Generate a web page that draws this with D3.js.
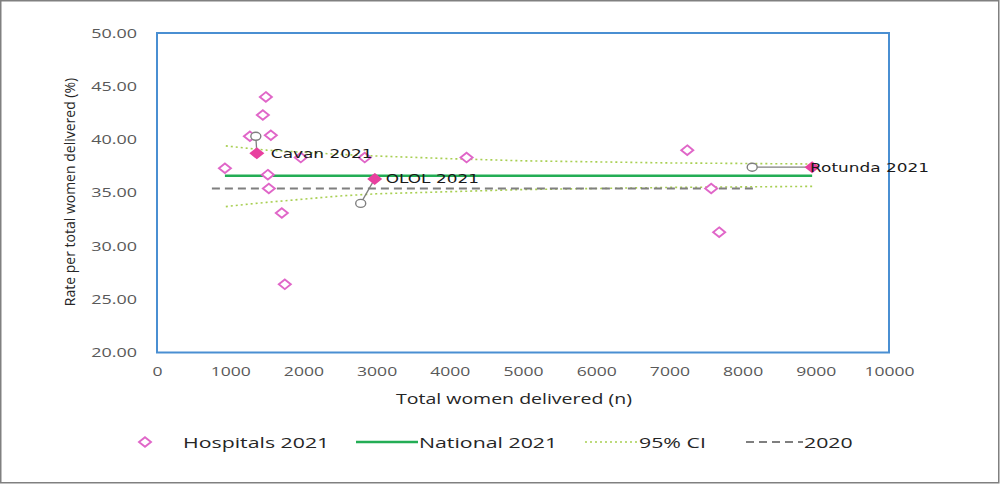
<!DOCTYPE html>
<html>
<head>
<meta charset="utf-8">
<script src="https://cdn.jsdelivr.net/npm/d3@7"></script>
<style>
  body { margin: 0; background: #fff; }
  svg { display: block; }
</style>
</head>
<body>
<script>
// hospitals 2021 (unlabelled units): total women delivered and rate (%)
const hospN    = [928, 1487, 1446, 1269, 1555, 1514, 1528, 1964, 2838, 1705, 1746, 4229, 7244, 7571, 7680];
const hospRate = [37.3, 44.0, 42.3, 40.3, 40.4, 36.7, 35.4, 38.3, 38.3, 33.1, 26.4, 38.3, 39.0, 35.4, 31.3];

// labelled hospitals, 2021 value and 2020 value
const labelNames = ['Cavan 2021', 'OLOL 2021', 'Rotunda 2021'];
const lab2021N    = [1364, 2974, 8950];
const lab2021Rate = [38.7, 36.3, 37.4];
const lab2020N    = [1350, 2783, 8131];
const lab2020Rate = [40.3, 34.0, 37.4];

// national rates
const national2021 = 36.6;
const national2020 = 35.4;
const range2020N = [750, 8150];

// 95% CI funnel
const ciN     = [940, 1200, 1500, 2000, 2500, 3000, 4000, 5000, 6000, 7000, 8000, 8950];
const ciUpper = [39.4, 39.2, 39.0, 38.8, 38.6, 38.45, 38.2, 38.0, 37.9, 37.8, 37.75, 37.7];
const ciLower = [33.7, 33.9, 34.1, 34.4, 34.7, 34.9, 35.1, 35.3, 35.4, 35.5, 35.55, 35.6];

const xTicks = [0, 1000, 2000, 3000, 4000, 5000, 6000, 7000, 8000, 9000, 10000];
const yTicks = [20, 25, 30, 35, 40, 45, 50];

const legendItems = ['Hospitals 2021', 'National 2021', '95% CI', '2020'];

// the picture is stretched sideways, so text is too
function stretch(sel, k) {
  sel.each(function () {
    let w = this.getComputedTextLength();
    d3.select(this).attr('textLength', w * k).attr('lengthAdjust', 'spacingAndGlyphs');
  });
}

const width = 1001, height = 484;
const svg = d3.select('body').append('svg')
  .attr('width', width)
  .attr('height', height);

// outer frame
svg.append('rect')
  .attr('x', 0.75).attr('y', 0.75)
  .attr('width', 998).attr('height', 482)
  .attr('fill', '#fff')
  .attr('stroke', '#808080')
  .attr('stroke-width', 1.5);

const x = d3.scaleLinear().domain([0, 10000]).range([157, 889]);
const y = d3.scaleLinear().domain([20, 50]).range([352.5, 33]);

// plot area border
svg.append('rect')
  .attr('x', x(0)).attr('y', y(50))
  .attr('width', x(10000) - x(0)).attr('height', y(20) - y(50))
  .attr('fill', 'none')
  .attr('stroke', '#4a8fd2')
  .attr('stroke-width', 2);

// axes (labels only)
let yAxis = svg.append('g')
  .attr('transform', `translate(${x(0)},0)`)
  .call(d3.axisLeft(y).tickValues(yTicks).tickSize(0).tickPadding(20).tickFormat(d3.format('.2f')));
yAxis.select('.domain').remove();
yAxis.selectAll('text')
  .attr('font-family', 'Open Sans')
  .attr('font-size', 13)
  .attr('fill', '#595959');

let xAxis = svg.append('g')
  .attr('transform', `translate(0,${y(20)})`)
  .call(d3.axisBottom(x).tickValues(xTicks).tickSize(0).tickPadding(14).tickFormat(d3.format('d')));
xAxis.select('.domain').remove();
xAxis.selectAll('text')
  .attr('font-family', 'Open Sans')
  .attr('font-size', 13)
  .attr('fill', '#595959');

stretch(yAxis.selectAll('text'), 1.38);
stretch(xAxis.selectAll('text'), 1.35);

// axis titles
let xTitle = svg.append('text')
  .attr('x', 514).attr('y', 398)
  .attr('text-anchor', 'middle')
  .attr('dominant-baseline', 'central')
  .attr('font-family', 'Open Sans')
  .attr('font-size', 15)
  .attr('fill', '#262626')
  .text('Total women delivered (n)');
stretch(xTitle, 1.3);

svg.append('text')
  .attr('transform', 'translate(69,192) rotate(-90)')
  .attr('text-anchor', 'middle')
  .attr('dominant-baseline', 'central')
  .attr('font-family', 'Open Sans')
  .attr('font-size', 14)
  .attr('fill', '#262626')
  .text('Rate per total women delivered (%)');

// CI funnel
const ciLine = (vals) => d3.line()
  .x((d, i) => x(ciN[i]))
  .y((d) => y(d))(vals);

[ciUpper, ciLower].forEach(vals => {
  svg.append('path')
    .attr('d', ciLine(vals))
    .attr('fill', 'none')
    .attr('stroke', '#a8cf52')
    .attr('stroke-width', 1.6)
    .attr('stroke-dasharray', '2,3');
});

// 2020 national
svg.append('line')
  .attr('x1', x(range2020N[0])).attr('x2', x(range2020N[1]))
  .attr('y1', y(national2020)).attr('y2', y(national2020))
  .attr('stroke', '#7f7f7f')
  .attr('stroke-width', 2.2)
  .attr('stroke-dasharray', '8,5');

// 2021 national, spanning the hospital range
const allN = hospN.concat(lab2021N);
svg.append('line')
  .attr('x1', x(d3.min(allN))).attr('x2', x(d3.max(allN)))
  .attr('y1', y(national2021)).attr('y2', y(national2021))
  .attr('stroke', '#23ad55')
  .attr('stroke-width', 2.6);

// diamond marker, squashed to match the stretched picture
const diamond = 'M0,-4.8L6,0L0,4.8L-6,0Z';

svg.append('g').selectAll('path')
  .data(hospN)
  .join('path')
  .attr('transform', (d, i) => `translate(${x(d)},${y(hospRate[i])})`)
  .attr('d', diamond)
  .attr('fill', '#fff')
  .attr('stroke', '#e066c8')
  .attr('stroke-width', 1.9);

// leader lines from 2020 to 2021
svg.append('g').selectAll('line')
  .data(labelNames)
  .join('line')
  .attr('x1', (d, i) => x(lab2020N[i]))
  .attr('y1', (d, i) => y(lab2020Rate[i]))
  .attr('x2', (d, i) => x(lab2021N[i]))
  .attr('y2', (d, i) => y(lab2021Rate[i]))
  .attr('stroke', '#7f7f7f')
  .attr('stroke-width', 1.3);

// 2020 points
svg.append('g').selectAll('ellipse')
  .data(lab2020N)
  .join('ellipse')
  .attr('cx', d => x(d))
  .attr('cy', (d, i) => y(lab2020Rate[i]))
  .attr('rx', 5).attr('ry', 4)
  .attr('fill', '#fff')
  .attr('stroke', '#7f7f7f')
  .attr('stroke-width', 1.4);

// 2021 labelled points
svg.append('g').selectAll('path')
  .data(lab2021N)
  .join('path')
  .attr('transform', (d, i) => `translate(${x(d)},${y(lab2021Rate[i])})`)
  .attr('d', diamond)
  .attr('fill', '#e8409f')
  .attr('stroke', '#e8409f')
  .attr('stroke-width', 1.9);

// data labels
const labelDx = [14, 11, -2];
let labels = svg.append('g').selectAll('text')
  .data(labelNames)
  .join('text')
  .attr('x', (d, i) => x(lab2021N[i]) + labelDx[i])
  .attr('y', (d, i) => y(lab2021Rate[i]))
  .attr('dominant-baseline', 'central')
  .attr('font-family', 'DejaVu Sans')
  .attr('font-size', 13)
  .attr('fill', '#1a1a1a')
  .text(d => d);
stretch(labels, 1.3);

// legend
const legY = 442;
const leg = svg.append('g').attr('font-family', 'Open Sans').attr('font-size', 15).attr('fill', '#262626');

leg.append('path')
  .attr('transform', `translate(145,${legY})`)
  .attr('d', diamond)
  .attr('fill', '#fff')
  .attr('stroke', '#e066c8')
  .attr('stroke-width', 1.9);

leg.append('line')
  .attr('x1', 356).attr('x2', 418).attr('y1', legY).attr('y2', legY)
  .attr('stroke', '#23ad55').attr('stroke-width', 2.6);

leg.append('line')
  .attr('x1', 585).attr('x2', 638).attr('y1', legY).attr('y2', legY)
  .attr('stroke', '#a8cf52').attr('stroke-width', 1.6).attr('stroke-dasharray', '2,3');

leg.append('line')
  .attr('x1', 746).attr('x2', 803).attr('y1', legY).attr('y2', legY)
  .attr('stroke', '#7f7f7f').attr('stroke-width', 2.2).attr('stroke-dasharray', '8,5');

const legX = [183, 419, 639, 804];
let legText = leg.selectAll('text')
  .data(legendItems)
  .join('text')
  .attr('x', (d, i) => legX[i])
  .attr('y', legY)
  .attr('dominant-baseline', 'central')
  .text(d => d);
stretch(legText, 1.42);
</script>
</body>
</html>
